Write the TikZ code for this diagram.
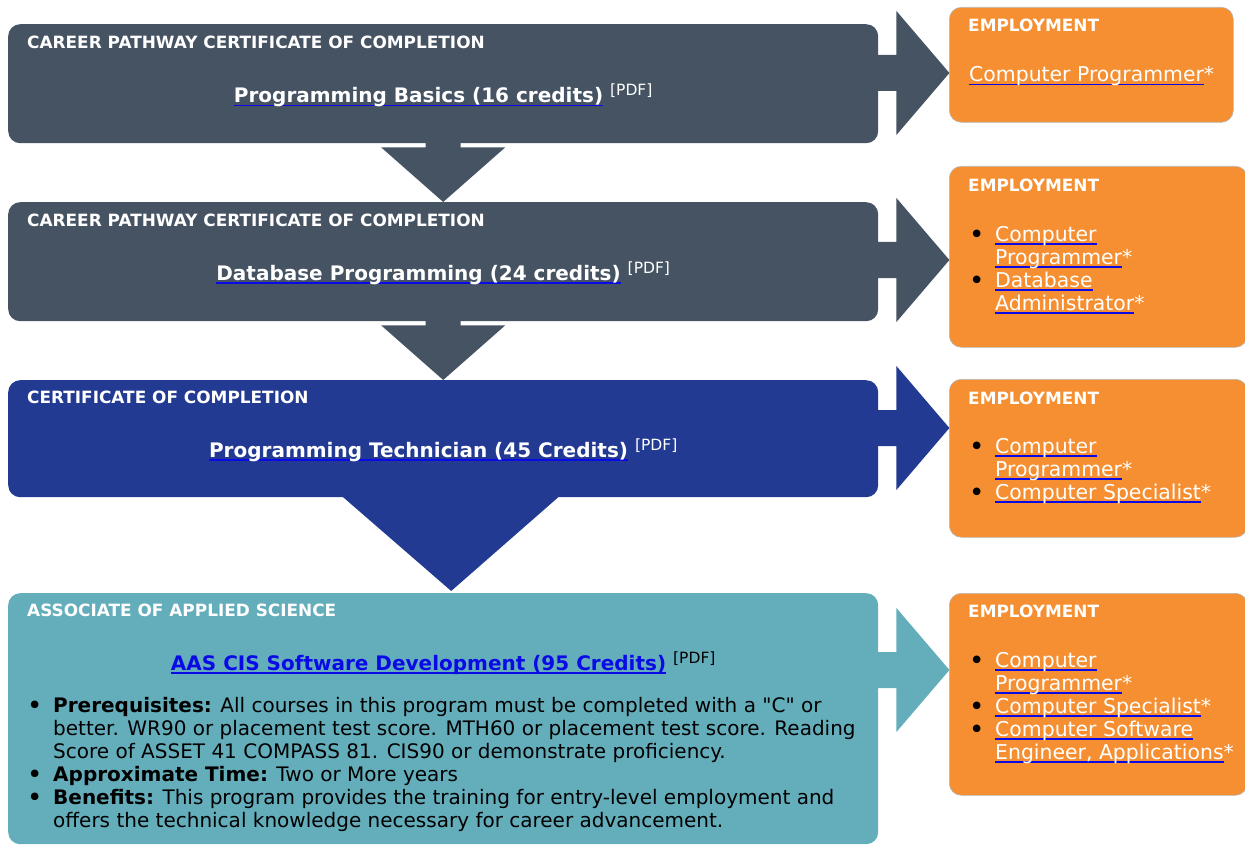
\documentclass[tikz,border=0pt]{standalone}
\usepackage{fontspec}
\setmainfont{DejaVu Sans}
\usepackage{xcolor}
\usetikzlibrary{positioning, calc}

\definecolor{slate}{RGB}{70,83,99}
\definecolor{navy}{RGB}{35,58,146}
\definecolor{aasteal}{RGB}{100,174,188}
\definecolor{emporange}{RGB}{245,143,50}
\definecolor{linkblue}{RGB}{10,10,230}

\newsavebox{\lnkbox}
\newcommand{\lnk}[1]{\sbox{\lnkbox}{#1}\rlap{\textcolor{linkblue}{\rule[-3.5pt]{\wd\lnkbox}{1.8pt}}}\usebox{\lnkbox}}
\newcommand{\pdftag}{\hspace{7pt}\raisebox{7pt}{\fontsize{15.5}{15.5}\selectfont [PDF]}}
\newcommand{\blt}{\makebox[26pt][l]{\textcolor{black}{\raisebox{-2.5pt}{\fontsize{26}{26}\selectfont •}}}}
\newcommand{\ind}{\hspace*{26pt}}
% block arrow from a box towards its employment box
\newcommand{\toemp}[3]{\fill[#1] (#2.east |- 0,#3) ++(-2,-18) -- ++(20,0) -- ++(0,-44) -- ++(53,62) -- ++(-53,62) -- ++(0,-44) -- ++(-20,0) -- cycle;}

\begin{document}
\begin{tikzpicture}[x=1pt, y=-1pt,
    prog/.style={rectangle, rounded corners=12pt, minimum width=870pt, inner sep=0pt, anchor=north west},
    emp/.style={rectangle, rounded corners=12pt, fill=emporange, draw=gray!55, line width=0.6pt, inner sep=0pt, anchor=north west},
    head/.style={font=\fontsize{16.9}{16.9}\selectfont\bfseries, text=white, inner sep=0pt, anchor=base west},
    title/.style={font=\fontsize{20}{20}\selectfont, inner sep=0pt, anchor=base},
    jobs/.style={font=\fontsize{20.4}{23}\selectfont, text=white, align=left, inner sep=0pt, anchor=base west},
    info/.style={font=\fontsize{20}{23}\selectfont, text=black, align=left, inner sep=0pt, anchor=base west}
]
\useasboundingbox (0,0) rectangle (1245,845);

% Program boxes (left side)
\node[prog, fill=slate, minimum height=119pt] (cp1) at (8,24) {};
\node[prog, fill=slate, minimum height=119pt] (cp2) at (8,202) {};
\node[prog, fill=navy, minimum height=117pt] (cp3) at (8,380) {};
\node[prog, fill=aasteal, minimum height=251pt] (cp4) at (8,593) {};

% Down arrows
\fill[slate] ($(cp1.south)+(-17.5,-2)$) -- ++(0,6) -- ++(-44.5,0) -- (cp2.north) -- ($(cp1.south)+(62,4)$) -- ++(-44.5,0) -- ++(0,-6) -- cycle;
\fill[slate] ($(cp2.south)+(-17.5,-2)$) -- ++(0,6) -- ++(-44.5,0) -- (cp3.north) -- ($(cp2.south)+(62,4)$) -- ++(-44.5,0) -- ++(0,-6) -- cycle;
\fill[navy] ($(cp3.south)+(-101,-1)$) -- ($(cp3.south)+(116,-1)$) -- ($(cp4.north)+(8,-2)$) -- cycle;

% Employment boxes (right side)
\node[emp, minimum width=284pt, minimum height=115pt] (emp1) at (949,7) {};
\node[emp, minimum width=298pt, minimum height=181pt] (emp2) at (949,166) {};
\node[emp, minimum width=298pt, minimum height=158pt] (emp3) at (949,379) {};
\node[emp, minimum width=298pt, minimum height=202pt] (emp4) at (949,593) {};

% Arrows to employment
\toemp{slate}{cp1}{73}
\toemp{slate}{cp2}{260}
\toemp{navy}{cp3}{428}
\toemp{aasteal}{cp4}{670}

% Box texts
\node[head] (cp1h) at ($(cp1.north west)+(19,25)$) {CAREER PATHWAY CERTIFICATE OF COMPLETION};
\node[title, text=white] (cp1t) at ($(cp1.north)+(0,79)$) {\lnk{\textbf{Programming Basics (16 credits)}}\pdftag};

\node[head] (cp2h) at ($(cp2.north west)+(19,24)$) {CAREER PATHWAY CERTIFICATE OF COMPLETION};
\node[title, text=white] (cp2t) at ($(cp2.north)+(0,78)$) {\lnk{\textbf{Database Programming (24 credits)}}\pdftag};

\node[head] (cp3h) at ($(cp3.north west)+(19,23)$) {CERTIFICATE OF COMPLETION};
\node[title, text=white] (cp3t) at ($(cp3.north)+(0,77)$) {\lnk{\textbf{Programming Technician (45 Credits)}}\pdftag};

\node[head] (cp4h) at ($(cp4.north west)+(19,23)$) {ASSOCIATE OF APPLIED SCIENCE};
\node[title, text=linkblue] (cp4t) at ($(cp4.north)+(0,77)$) {\lnk{\textbf{AAS CIS Software Development (95 Credits)}}\textcolor{black}{\pdftag}};
% base anchor of a multi-line node sits on its last line
\node[info] (cp4i) at ($(cp4.north west)+(19,234)$) {%
\blt\textbf{Prerequisites:} All courses in this program must be completed with a \textquotedbl C\textquotedbl{} or\\
\ind better. WR90 or placement test score. MTH60 or placement test score. Reading\\
\ind Score of ASSET 41 COMPASS 81. CIS90 or demonstrate proficiency.\\
\blt\textbf{Approximate Time:} Two or More years\\
\blt\textbf{Benefits:} This program provides the training for entry-level employment and\\
\ind offers the technical knowledge necessary for career advancement.};

% Employment texts
\node[head] (emp1h) at ($(emp1.north west)+(19,25)$) {EMPLOYMENT};
\node[jobs] (emp1j) at ($(emp1.north west)+(20,75)$) {\lnk{Computer Programmer}*};

\node[head] (emp2h) at ($(emp2.north west)+(19,26)$) {EMPLOYMENT};
\node[jobs] (emp2j) at ($(emp2.north west)+(20,144)$) {%
\blt\lnk{Computer}\\
\ind\lnk{Programmer}*\\
\blt\lnk{Database}\\
\ind\lnk{Administrator}*};

\node[head] (emp3h) at ($(emp3.north west)+(19,25)$) {EMPLOYMENT};
\node[jobs] (emp3j) at ($(emp3.north west)+(20,120)$) {%
\blt\lnk{Computer}\\
\ind\lnk{Programmer}*\\
\blt\lnk{Computer Specialist}*};

\node[head] (emp4h) at ($(emp4.north west)+(19,24)$) {EMPLOYMENT};
\node[jobs] (emp4j) at ($(emp4.north west)+(20,166)$) {%
\blt\lnk{Computer}\\
\ind\lnk{Programmer}*\\
\blt\lnk{Computer Specialist}*\\
\blt\lnk{Computer Software}\\
\ind\lnk{Engineer, Applications}*};

\end{tikzpicture}
\end{document}
